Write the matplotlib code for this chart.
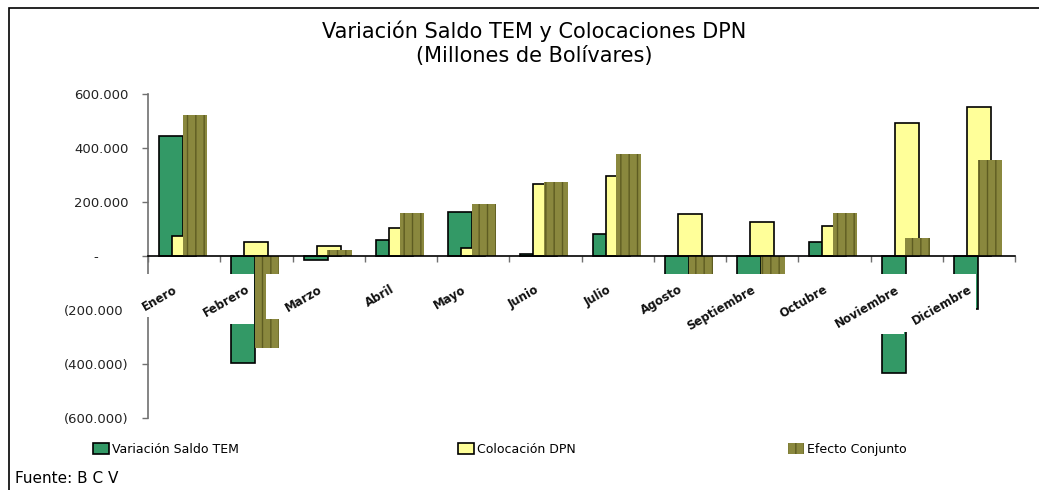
import matplotlib
matplotlib.use("Agg")
import matplotlib.pyplot as plt
from matplotlib.patches import Rectangle, Patch
from matplotlib.ticker import FuncFormatter, FixedLocator
from matplotlib.transforms import ScaledTranslation, IdentityTransform
import numpy as np

# ---- data (Millones de Bolívares) ----
meses = ["Enero", "Febrero", "Marzo", "Abril", "Mayo", "Junio", "Julio",
         "Agosto", "Septiembre", "Octubre", "Noviembre", "Diciembre"]
variacion_tem = [445000, -397000, -16000, 58000, 163000, 9000, 82000,
                 -235000, -226000, 52000, -434000, -198000]
colocacion_dpn = [74000, 52000, 37000, 105000, 30000, 267000, 297000,
                  155000, 126000, 111000, 491000, 550000]
efecto_conjunto = [522000, -342000, 21000, 161000, 191000, 274000, 377000,
                   -80000, -100000, 161000, 66000, 355000]
serie_nombres = ["Variación Saldo TEM", "Colocación DPN", "Efecto Conjunto"]
y_ticks = [-600000, -400000, -200000, 0, 200000, 400000, 600000]
titulo = "Variación Saldo TEM y Colocaciones DPN\n(Millones de Bolívares)"
fuente = "Fuente: B C V"

# ---- style ----
plt.rcParams['font.family'] = ['DejaVu Sans']
C_GREEN = "#339966"
C_YELLOW = "#FFFF99"
C_OLIVE = "#8a883e"
W, H, DPI = 1039, 490, 100

fig = plt.figure(figsize=(W / DPI, H / DPI), dpi=DPI)
ax = fig.add_axes([148 / W, (H - 418) / H, (1015 - 148) / W, (418 - 94) / H])

x = np.arange(len(meses)) + 0.5
bw = 0.335
ax.bar(x - 0.18, variacion_tem, bw, color=C_GREEN, edgecolor="black",
       linewidth=1.2, zorder=1)
ax.bar(x, colocacion_dpn, bw, color=C_YELLOW, edgecolor="black",
       linewidth=1.2, zorder=1.1)
ax.bar(x + 0.15, efecto_conjunto, bw, color=C_OLIVE, edgecolor="#5e5c22",
       linewidth=0, hatch="||", zorder=1.2)

ax.set_xlim(0, len(meses))
ax.set_ylim(-600000, 600000)

# spines
for s in ["top", "right"]:
    ax.spines[s].set_visible(False)
ax.spines["left"].set_color("#707070")
ax.spines["left"].set_linewidth(1.2)
ax.spines["bottom"].set_position(("data", 0))
ax.spines["bottom"].set_color("black")
ax.spines["bottom"].set_linewidth(1.2)

ax.yaxis.set_major_locator(FixedLocator(y_ticks))


def fmt(v, pos):
    if v == 0:
        return "-       "
    s = f"{abs(v):,.0f}".replace(",", ".")
    return f"({s})" if v < 0 else s


ax.yaxis.set_major_formatter(FuncFormatter(fmt))
ax.tick_params(axis="y", length=4, width=1, color="#707070", pad=10,
               labelsize=9.5, labelcolor="#222222")
ax.set_xticks([])
ax.set_xticks(np.arange(len(meses) + 1), minor=True)
ax.tick_params(axis="x", which="minor", length=4, width=1, color="#707070",
               direction="out")

# month labels (rotated)
off = ScaledTranslation(-11 / DPI, -27 / DPI, fig.dpi_scale_trans)
labels = []
for xi, m in zip(x, meses):
    t = ax.text(xi, 0, m, transform=ax.transData + off, rotation=30,
                rotation_mode="anchor", ha="right", va="top",
                fontsize=8.5, fontweight="bold", color="#111111", zorder=4,
                clip_on=False)
    labels.append(t)

# title
fig.text(0.514, (H - 20) / H, titulo, ha="center", va="top", fontsize=15,
         linespacing=1.3, color="black")

# legend entries
handles = [Patch(facecolor=C_GREEN, edgecolor="black", linewidth=1.2),
           Patch(facecolor=C_YELLOW, edgecolor="black", linewidth=1.2),
           Patch(facecolor=C_OLIVE, edgecolor="#5e5c22", linewidth=0, hatch="||")]
leg_x = [93, 458, 788]
for hnd, name, lx in zip(handles, serie_nombres, leg_x):
    lg = fig.legend([hnd], [name], loc="center left",
                    bbox_to_anchor=(lx / W, (H - 449) / H), frameon=False,
                    fontsize=9, handlelength=1.3, handleheight=1.0,
                    handletextpad=0.25, borderpad=0, borderaxespad=0)

fig.text(15 / W, (H - 478) / H, fuente, ha="left", va="center", fontsize=11)

# outer chart frame
fig.add_artist(Rectangle((9 / W, -0.1), 1.2, (H - 8) / H + 0.1,
                         transform=fig.transFigure, fill=False,
                         edgecolor="black", linewidth=1.2, clip_on=False))

# white label backgrounds (as in the original rendering)
fig.canvas.draw()
r = fig.canvas.get_renderer()
zero_y = ax.transData.transform((0, 0))[1]
for t in labels:
    bb = t.get_window_extent(r)
    top = zero_y - 18
    bottom = bb.y0 - 4
    x0 = bb.x0 - 17
    x1 = bb.x1 + 2
    rect = Rectangle((x0, bottom), x1 - x0, top - bottom,
                     transform=IdentityTransform(), facecolor="white",
                     edgecolor="none", zorder=3, clip_on=False)
    ax.add_patch(rect)

fig.savefig("out.png", dpi=DPI)
